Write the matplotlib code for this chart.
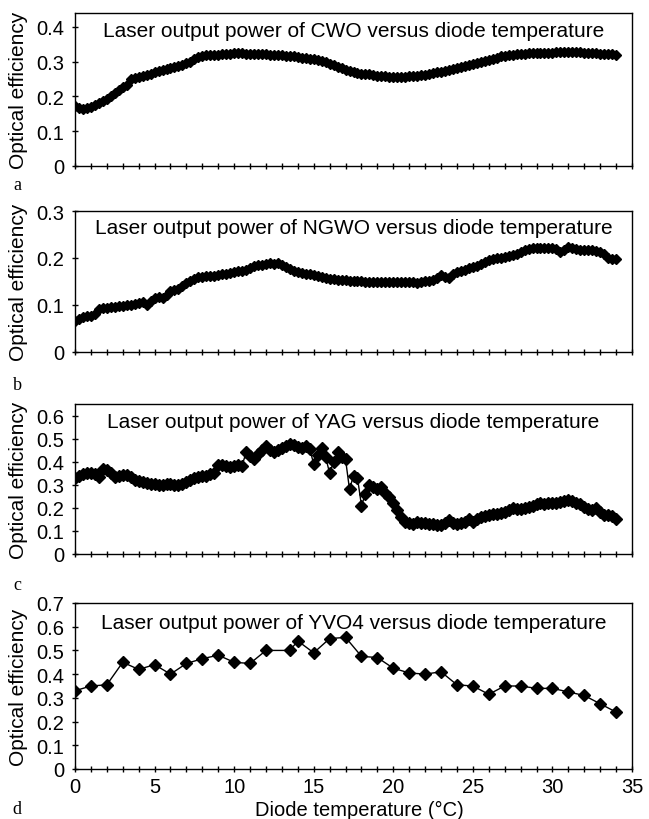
import numpy as np
import matplotlib
matplotlib.use('Agg')
import matplotlib.pyplot as plt
from matplotlib.ticker import MultipleLocator, FuncFormatter

plt.rcParams['font.family'] = ['Liberation Sans', 'DejaVu Sans']

# diode temperature (deg C) for the dense scans, 0.25 steps
t_fine = np.arange(0, 34.01, 0.25)

cwo = [0.172, 0.168, 0.165, 0.167, 0.170, 0.174, 0.180, 0.186,
       0.194, 0.201, 0.209, 0.218, 0.228, 0.232, 0.249, 0.254,
       0.257, 0.260, 0.263, 0.266, 0.270, 0.272, 0.275, 0.278,
       0.281, 0.284, 0.287, 0.291, 0.295, 0.300, 0.307, 0.314,
       0.317, 0.318, 0.318, 0.319, 0.320, 0.321, 0.322, 0.323,
       0.324, 0.324, 0.324, 0.323, 0.323, 0.322, 0.322, 0.321,
       0.321, 0.320, 0.320, 0.319, 0.318, 0.317, 0.317, 0.315,
       0.313, 0.311, 0.310, 0.309, 0.307, 0.305, 0.302, 0.298,
       0.293, 0.290, 0.286, 0.281, 0.276, 0.272, 0.270, 0.268,
       0.266, 0.265, 0.264, 0.262, 0.260, 0.259, 0.258, 0.257,
       0.256, 0.256, 0.257, 0.257, 0.258, 0.259, 0.260, 0.262,
       0.263, 0.265, 0.267, 0.269, 0.271, 0.273, 0.276, 0.279,
       0.282, 0.285, 0.288, 0.291, 0.294, 0.297, 0.300, 0.303,
       0.306, 0.309, 0.312, 0.315, 0.317, 0.319, 0.320, 0.322,
       0.323, 0.323, 0.324, 0.324, 0.324, 0.325, 0.325, 0.326,
       0.326, 0.327, 0.327, 0.327, 0.328, 0.328, 0.327, 0.327,
       0.326, 0.325, 0.325, 0.324, 0.323, 0.322, 0.322, 0.321,
       0.320]

ngwo = [0.066, 0.070, 0.074, 0.077, 0.076, 0.080, 0.092, 0.093,
        0.093, 0.095, 0.096, 0.097, 0.098, 0.099, 0.101, 0.103,
        0.105, 0.106, 0.099, 0.108, 0.115, 0.116, 0.114, 0.122,
        0.130, 0.131, 0.135, 0.140, 0.146, 0.151, 0.156, 0.159,
        0.160, 0.161, 0.161, 0.162, 0.164, 0.166, 0.167, 0.169,
        0.171, 0.172, 0.172, 0.175, 0.178, 0.182, 0.185, 0.186,
        0.188, 0.189, 0.187, 0.190, 0.186, 0.180, 0.176, 0.173,
        0.171, 0.169, 0.167, 0.165, 0.163, 0.161, 0.160, 0.158,
        0.156, 0.155, 0.154, 0.153, 0.153, 0.152, 0.151, 0.151,
        0.151, 0.150, 0.150, 0.150, 0.150, 0.150, 0.149, 0.150,
        0.149, 0.150, 0.150, 0.150, 0.150, 0.150, 0.147, 0.150,
        0.151, 0.152, 0.153, 0.157, 0.163, 0.160, 0.157, 0.165,
        0.170, 0.172, 0.175, 0.178, 0.181, 0.184, 0.188, 0.192,
        0.195, 0.197, 0.199, 0.201, 0.203, 0.205, 0.207, 0.209,
        0.213, 0.217, 0.220, 0.221, 0.222, 0.222, 0.222, 0.221,
        0.221, 0.219, 0.213, 0.218, 0.223, 0.221, 0.219, 0.218,
        0.218, 0.217, 0.216, 0.215, 0.213, 0.209, 0.200, 0.198,
        0.197]

yag = [0.330, 0.340, 0.345, 0.350, 0.350, 0.345, 0.335, 0.370,
       0.362, 0.352, 0.335, 0.340, 0.342, 0.343, 0.335, 0.320,
       0.315, 0.310, 0.308, 0.305, 0.302, 0.300, 0.300, 0.302,
       0.303, 0.300, 0.298, 0.305, 0.312, 0.320, 0.330, 0.332,
       0.340, 0.340, 0.345, 0.350, 0.385, 0.385, 0.383, 0.378,
       0.380, 0.385, 0.383, 0.440, 0.425, 0.410, 0.435, 0.450,
       0.470, 0.450, 0.440, 0.450, 0.460, 0.470, 0.475, 0.472,
       0.465, 0.460, 0.470, 0.455, 0.390, 0.430, 0.460, 0.420,
       0.350, 0.400, 0.440, 0.420, 0.410, 0.280, 0.340, 0.330,
       0.210, 0.260, 0.300, 0.290, 0.280, 0.290, 0.265, 0.245,
       0.220, 0.190, 0.160, 0.140, 0.135, 0.132, 0.140, 0.135,
       0.133, 0.130, 0.128, 0.125, 0.125, 0.135, 0.147, 0.135,
       0.128, 0.133, 0.138, 0.150, 0.140, 0.150, 0.160, 0.165,
       0.168, 0.172, 0.175, 0.178, 0.180, 0.190, 0.200, 0.195,
       0.195, 0.200, 0.205, 0.210, 0.215, 0.220, 0.218, 0.220,
       0.220, 0.222, 0.225, 0.228, 0.232, 0.228, 0.222, 0.215,
       0.205, 0.195, 0.190, 0.198, 0.180, 0.168, 0.170, 0.165,
       0.150]

t_yvo4 = [0, 1, 2, 3, 4, 5, 6, 7, 8, 9, 10, 11, 12, 13.5, 14, 15, 16, 17,
          18, 19, 20, 21, 22, 23, 24, 25, 26, 27, 28, 29, 30, 31, 32, 33, 34]
yvo4 = [0.330, 0.350, 0.355, 0.450, 0.420, 0.440, 0.400, 0.445, 0.465,
        0.480, 0.450, 0.445, 0.500, 0.500, 0.540, 0.490, 0.550, 0.555,
        0.475, 0.470, 0.425, 0.405, 0.400, 0.410, 0.355, 0.350, 0.315,
        0.350, 0.350, 0.340, 0.340, 0.325, 0.310, 0.275, 0.240]

crystals = ['CWO', 'NGWO', 'YAG', 'YVO4']
letters = ['a', 'b', 'c', 'd']
y_tops = [0.44, 0.3, 0.65, 0.7]
series = [(t_fine, cwo, 5.0), (t_fine, ngwo, 5.0), (t_fine, yag, 6.0), (t_yvo4, yvo4, 6.5)]

# axes boxes in pixels: (top, bottom), and the panel letter rows
boxes = [(14, 167), (212, 353), (405, 555), (604, 770)]
letter_rows = [186, 386, 586, 810]
W, H = 649, 820
left, right = 75, 632

fig = plt.figure(figsize=(W / 100, H / 100), dpi=100)

fmt = FuncFormatter(lambda v, p: '0' if abs(v) < 1e-9 else '{:.1f}'.format(v))

for i, (top, bot) in enumerate(boxes):
    ax = fig.add_axes([left / W, 1 - bot / H, (right - left) / W, (bot - top) / H])
    x, y, ms = series[i]
    ax.plot(x, y, color='black', lw=1.0, marker='D', ms=ms, mec='black', mfc='black')
    ax.set_xlim(0, 35)
    ax.set_ylim(0, y_tops[i])
    ax.yaxis.set_major_locator(MultipleLocator(0.1))
    ax.yaxis.set_major_formatter(fmt)
    if i < 3:
        ax.xaxis.set_major_locator(MultipleLocator(1))
        ax.set_xticklabels([])
    else:
        ax.xaxis.set_major_locator(MultipleLocator(5))
        ax.xaxis.set_minor_locator(MultipleLocator(1))
        ax.set_xlabel('Diode temperature (\u00b0C)', fontsize=14.5, va='center')
        ax.xaxis.set_label_coords(0.51, (bot - 810) / (bot - top))
    ax.tick_params(axis='both', which='both', direction='inout', length=5, width=1,
                   labelsize=14.5, pad=5)
    ax.tick_params(axis='x', pad=3)
    ax.tick_params(axis='x', which='minor', length=4)
    for s in ax.spines.values():
        s.set_linewidth(1.0)
    ax.set_ylabel('Optical efficiency', fontsize=15, va='center')
    ax.yaxis.set_label_coords((19 - left) / (right - left), 0.5)
    ax.text(0.5, 0.885, 'Laser output power of {} versus diode temperature'.format(crystals[i]),
            transform=ax.transAxes, ha='center', va='center', fontsize=15)
    fig.text(17 / W, 1 - letter_rows[i] / H, letters[i],
             family='Liberation Serif', fontsize=13, ha='center', va='center')

fig.savefig('out.png', dpi=100)
